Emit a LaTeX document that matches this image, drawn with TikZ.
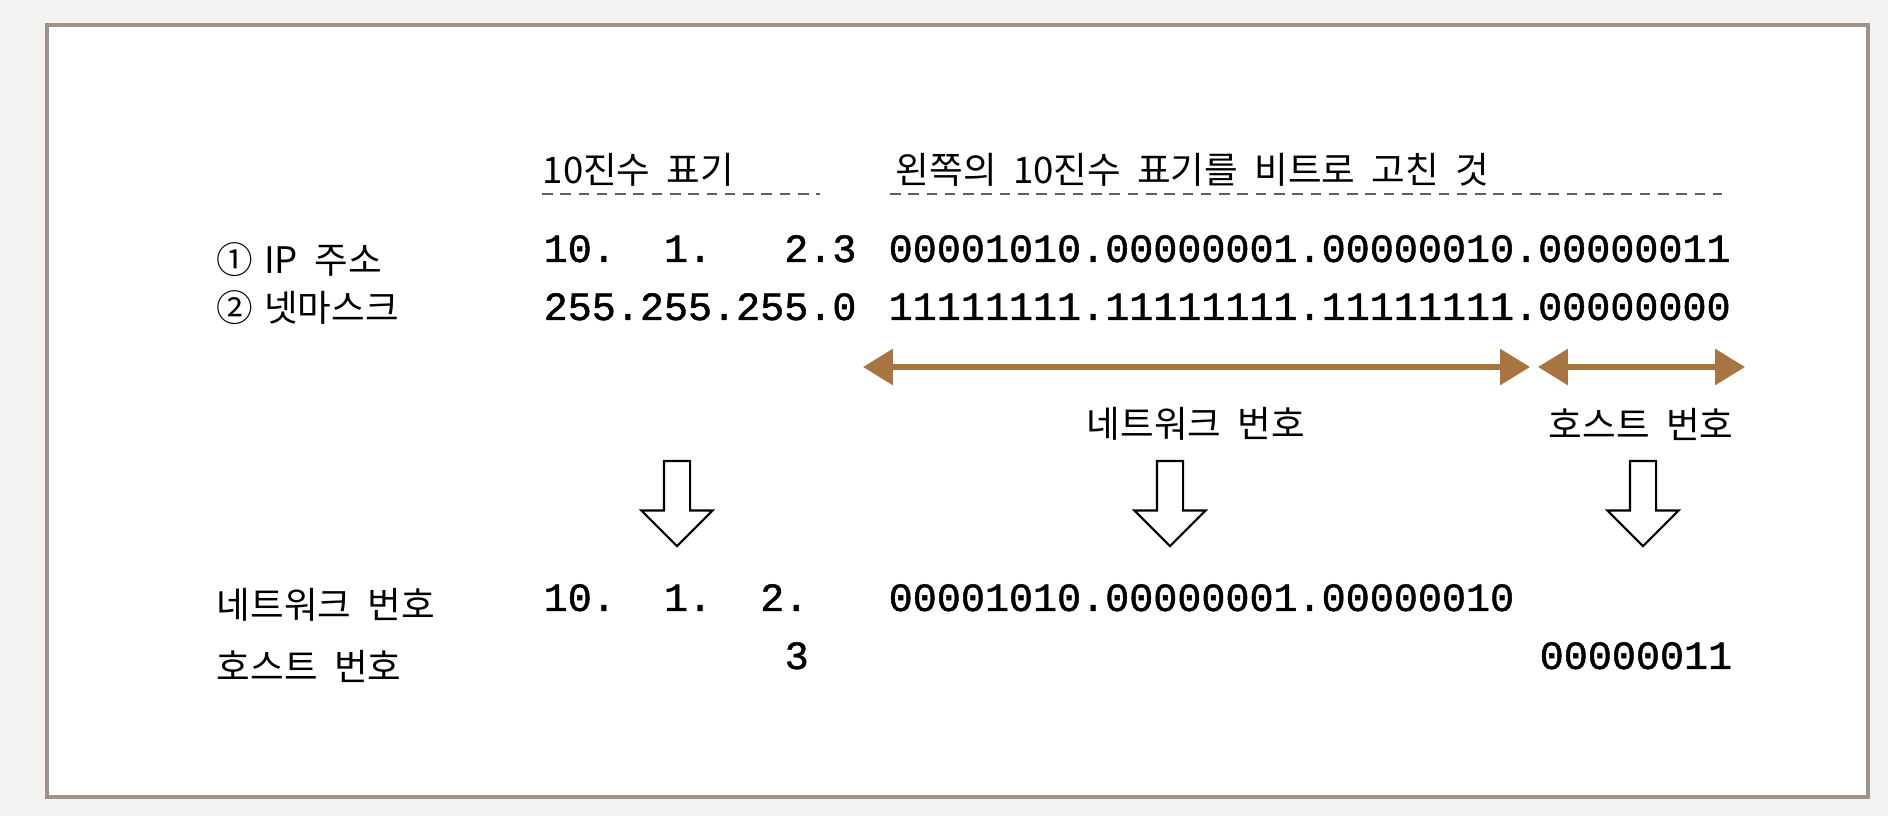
\documentclass[tikz,border=0pt]{standalone}
\usepackage{fontspec}
\setmainfont{Noto Sans CJK KR}[WordSpace=2]
\newfontfamily\codefont{Liberation Mono}[FakeBold=1.2]
\usetikzlibrary{arrows.meta,shapes.arrows}

\definecolor{framebrown}{RGB}{160,146,136}
\definecolor{arrowbrown}{RGB}{168,116,64}
\definecolor{dashgray}{RGB}{95,95,95}
\definecolor{paper}{RGB}{243,243,242}

\tikzset{
  ktext/.style={inner sep=0pt, anchor=west, font=\fontsize{10.4}{12}\selectfont},
  bits/.style={inner sep=0pt, anchor=base west, font=\codefont\fontsize{11.4}{13}\selectfont},
  dashrule/.style={draw=dashgray, line width=0.5pt, dash pattern=on 3pt off 2.2pt},
  span/.style={draw=arrowbrown, line width=1.5pt, {Triangle[length=8.5pt,width=10pt]}-{Triangle[length=8.5pt,width=10pt]}},
  hollowdown/.style={draw=black, fill=white, line width=0.6pt, single arrow, rotate=-90, anchor=tail,
    inner sep=0.12cm, minimum height=0.85cm, minimum width=0.69cm, single arrow head extend=0.225cm}
}

\begin{document}
\begin{tikzpicture}[x=0.01cm, y=-0.01cm]
    \useasboundingbox (0,0) rectangle (1888,816);
    \fill[paper] (0,0) rectangle (1888,816);
    \draw[draw=framebrown, line width=0.9pt, fill=white] (47,25) rectangle (1868,797);
    % headers
    \node[ktext] (decHead) at (542,170) {10진수 표기};
    \node[ktext] (binHead) at (895,170) {왼쪽의 10진수 표기를 비트로 고친 것};
    \draw[dashrule] (542,194) -- (820,194);
    \draw[dashrule] (890,194) -- (1722,194);
    % address and mask
    \node[ktext] (ipLabel) at (216,260) {①\hspace{0.3em}IP 주소};
    \node[ktext] (maskLabel) at (216,308) {②\hspace{0.3em}넷마스크};
    \node[bits] (ipDec) at (543,262) {10.~~1.~~~2.3};
    \node[bits] (maskDec) at (543,320) {255.255.255.0};
    \node[bits] (ipBin) at (888,262) {00001010.00000001.00000010.00000011};
    \node[bits] (maskBin) at (888,320) {11111111.11111111.11111111.00000000};
    % network / host parts
    \coordinate (netL) at (863,367);
    \coordinate (netR) at (1530,367);
    \coordinate (hostL) at (1538,367);
    \coordinate (hostR) at (1745,367);
    \draw[span] (netL) -- (netR);
    \draw[span] (hostL) -- (hostR);
    \node[ktext, anchor=center] (netName) at (1196,424) {네트워크 번호};
    \node[ktext] (hostName) at (1548,424) {호스트 번호};
    \node[hollowdown] (decDown) at (677,460) {};
    \node[hollowdown] (netDown) at (1170,460) {};
    \node[hollowdown] (hostDown) at (1643,460) {};
    % result
    \node[ktext] (netRow) at (216,605) {네트워크 번호};
    \node[ktext] (hostRow) at (216,666) {호스트 번호};
    \node[bits] (netDec) at (543,611) {10.~~1.~~2.};
    \node[bits] (hostDec) at (784,669) {3};
    \node[bits] (netBin) at (888,611) {00001010.00000001.00000010};
    \node[bits] (hostBin) at (1539,669) {00000011};
\end{tikzpicture}
\end{document}
